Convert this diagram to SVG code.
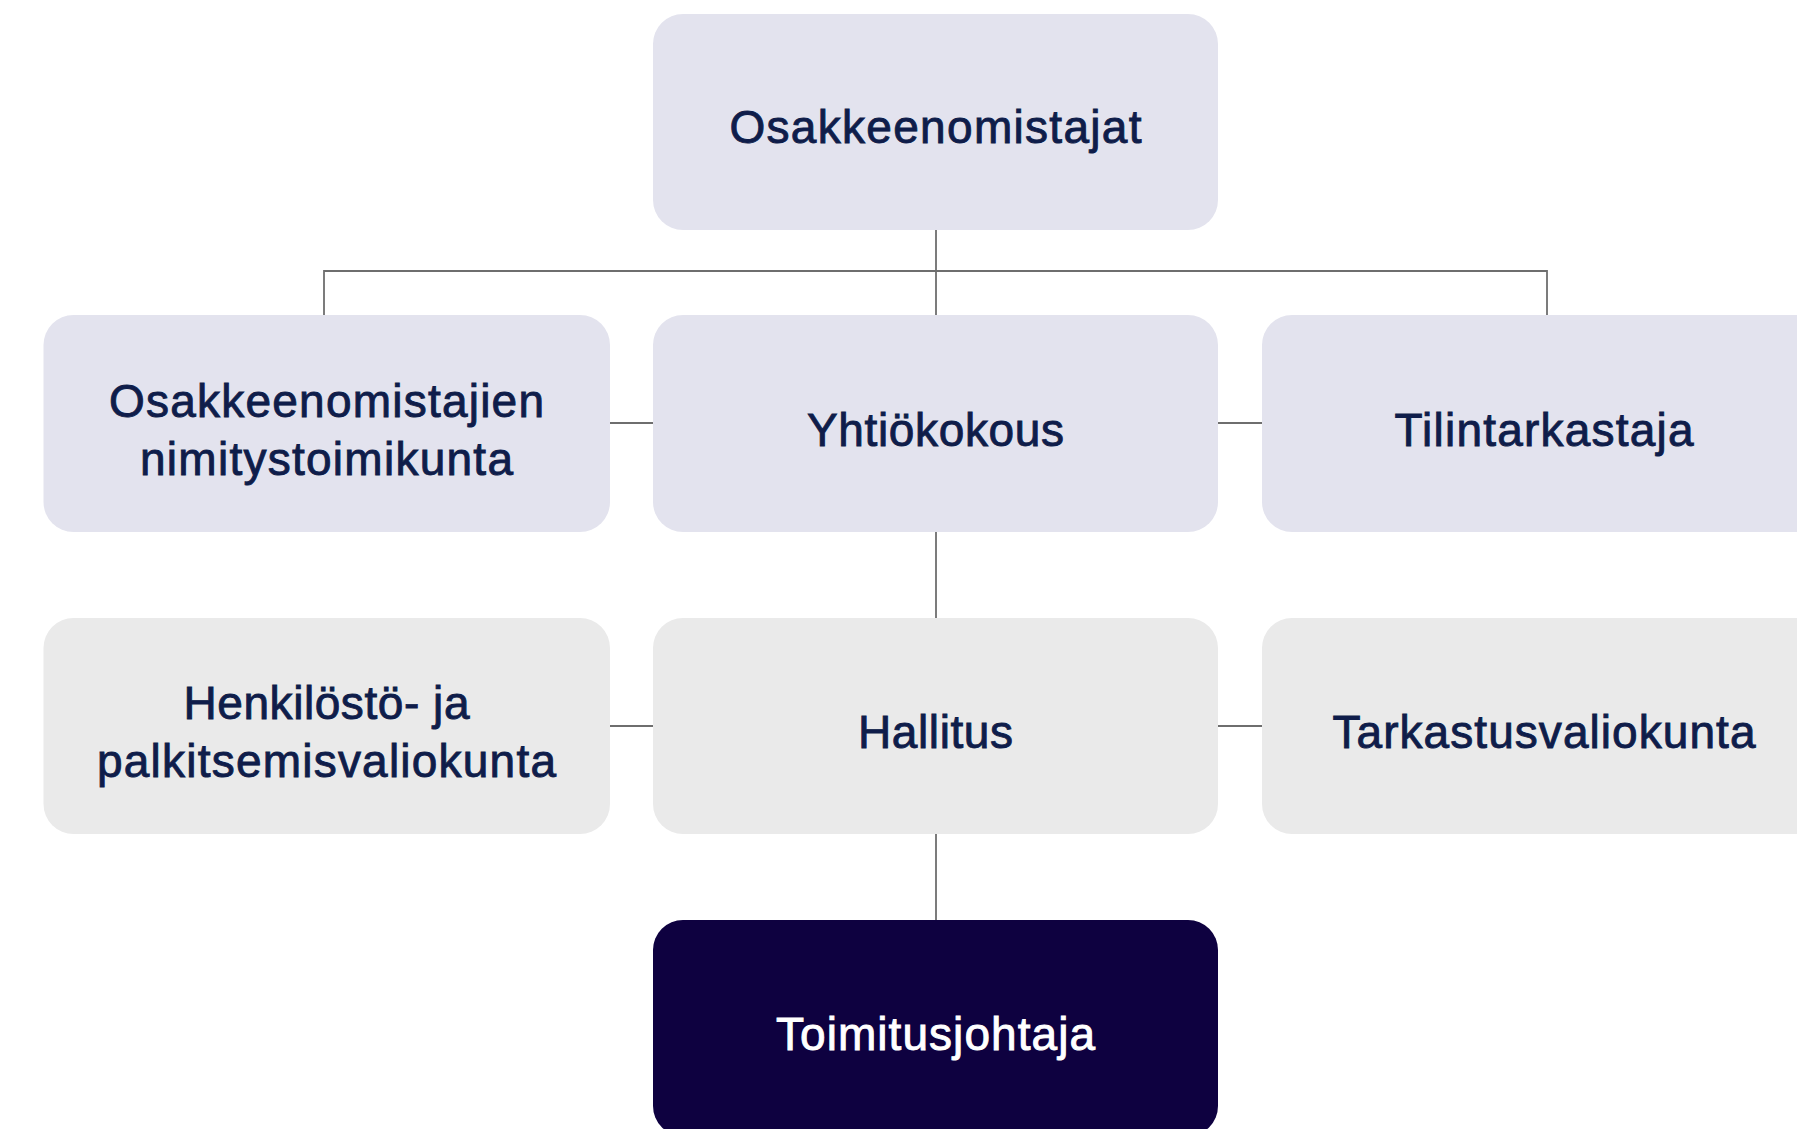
<svg xmlns="http://www.w3.org/2000/svg" width="1797" height="1129" viewBox="0 0 1797 1129">
<style>
.box{fill:#e3e3ee}
.box2{fill:#eaeaea}
.dark{fill:#0e0140}
.t{font-family:"Liberation Sans",Arial,sans-serif;font-size:46px;fill:#0f1d4a;stroke:#0f1d4a;stroke-width:0.9px;text-anchor:middle}
.w{fill:#ffffff;stroke:#ffffff}
.c line{stroke:#6e6e6e;stroke-width:1.8}
</style>
<rect width="1797" height="1129" fill="#ffffff"/>
<g class="c" id="connectors">
<line x1="936" y1="229" x2="936" y2="315"/>
<line x1="324" y1="271" x2="1547" y2="271"/>
<line x1="324" y1="270" x2="324" y2="315"/>
<line x1="1547" y1="270" x2="1547" y2="315"/>
<line x1="610" y1="423" x2="653" y2="423"/>
<line x1="1218" y1="423" x2="1262" y2="423"/>
<line x1="936" y1="532" x2="936" y2="618"/>
<line x1="610" y1="726" x2="653" y2="726"/>
<line x1="1218" y1="726" x2="1262" y2="726"/>
<line x1="936" y1="834" x2="936" y2="920"/>
</g>
<g id="osakkeenomistajat">
<rect class="box" x="653" y="14" width="565" height="216" rx="30"/>
<text class="t" x="935.5" y="143" textLength="412">Osakkeenomistajat</text>
</g>
<g id="nimitystoimikunta">
<rect class="box" x="43.5" y="315" width="566.5" height="217" rx="30"/>
<text class="t" x="326.5" y="417" textLength="435">Osakkeenomistajien</text>
<text class="t" x="326.5" y="475" textLength="373">nimitystoimikunta</text>
</g>
<g id="yhtiokokous">
<rect class="box" x="653" y="315" width="565" height="217" rx="30"/>
<text class="t" x="935.5" y="446" textLength="257">Yhtiökokous</text>
</g>
<g id="tilintarkastaja">
<rect class="box" x="1262" y="315" width="565" height="217" rx="30"/>
<text class="t" x="1544" y="446" textLength="299">Tilintarkastaja</text>
</g>
<g id="henkilosto">
<rect class="box2" x="43.5" y="618" width="566.5" height="216" rx="30"/>
<text class="t" x="326.5" y="719" textLength="286">Henkilöstö- ja</text>
<text class="t" x="326.5" y="777" textLength="459">palkitsemisvaliokunta</text>
</g>
<g id="hallitus">
<rect class="box2" x="653" y="618" width="565" height="216" rx="30"/>
<text class="t" x="935.5" y="748" textLength="155">Hallitus</text>
</g>
<g id="tarkastusvaliokunta">
<rect class="box2" x="1262" y="618" width="565" height="216" rx="30"/>
<text class="t" x="1544" y="748" textLength="423">Tarkastusvaliokunta</text>
</g>
<g id="toimitusjohtaja">
<rect class="dark" x="653" y="920" width="565" height="216" rx="30"/>
<text class="t w" x="935.5" y="1050" textLength="319">Toimitusjohtaja</text>
</g>
</svg>
